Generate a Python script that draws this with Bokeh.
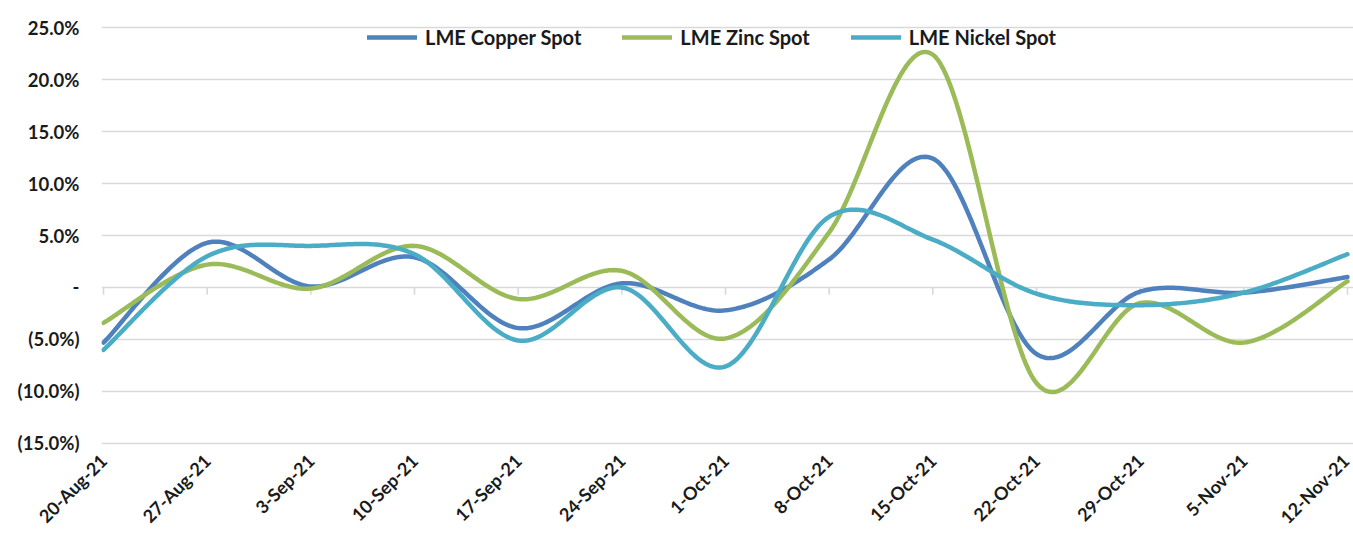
import numpy as np
from bokeh.plotting import figure
from bokeh.models import FixedTicker, Legend, LegendItem
from bokeh.embed import file_html
from bokeh.resources import INLINE

# ---- data ----
dates = ["20-Aug-21", "27-Aug-21", "3-Sep-21", "10-Sep-21", "17-Sep-21", "24-Sep-21",
         "1-Oct-21", "8-Oct-21", "15-Oct-21", "22-Oct-21", "29-Oct-21", "5-Nov-21", "12-Nov-21"]
copper = [-5.3, 4.3, 0.1, 2.9, -3.9, 0.4, -2.2, 2.7, 12.4, -6.4, -0.4, -0.5, 1.0]
zinc = [-3.4, 2.2, -0.1, 4.0, -1.1, 1.6, -4.9, 5.3, 22.4, -9.2, -1.5, -5.3, 0.6]
nickel = [-6.0, 3.0, 4.0, 3.2, -5.1, 0.0, -7.6, 6.8, 4.6, -0.6, -1.7, -0.5, 3.2]
series_names = ["LME Copper Spot", "LME Zinc Spot", "LME Nickel Spot"]
y_ticks = [-15, -10, -5, 0, 5, 10, 15, 20, 25]
y_tick_labels = ["(15.0%)", "(10.0%)", "(5.0%)", "-", "5.0%", "10.0%", "15.0%", "20.0%", "25.0%"]

colors = ["#4F81BD", "#9BBB59", "#4BACC6"]
FONT = "Lato"
TXT = "#1a1a1a"


def smooth(vals, n=40):
    """Excel-like smoothed line: cubic Bezier through the points (Catmull-Rom tangents)."""
    x = np.arange(len(vals), dtype=float)
    y = np.asarray(vals, dtype=float)
    P = np.column_stack([x, y])
    ext = np.vstack([P[0], P, P[-1]])
    out = []
    for i in range(len(P) - 1):
        p0, p1, p2, p3 = ext[i], ext[i + 1], ext[i + 2], ext[i + 3]
        c1 = p1 + (p2 - p0) / 6.0
        c2 = p2 - (p3 - p1) / 6.0
        t = np.linspace(0, 1, n, endpoint=(i == len(P) - 2))[:, None]
        pts = (1 - t) ** 3 * p1 + 3 * (1 - t) ** 2 * t * c1 + 3 * (1 - t) * t ** 2 * c2 + t ** 3 * p2
        out.append(pts)
    pts = np.vstack(out)
    return pts[:, 0], pts[:, 1]


p = figure(width=1353, height=538, x_range=(-0.0193, 12.058), y_range=(-15.2, 25.2),
           output_backend="svg", toolbar_location=None,
           min_border_left=101, min_border_right=0, min_border_top=25, min_border_bottom=93)
p.outline_line_color = None
p.background_fill_color = "white"
p.border_fill_color = "white"

# grid
p.xgrid.visible = False
p.ygrid.ticker = FixedTicker(ticks=y_ticks)
p.ygrid.grid_line_color = "#d9d9d9"
p.ygrid.grid_line_width = 1.6

# y axis
p.yaxis.ticker = FixedTicker(ticks=y_ticks)
p.yaxis.major_label_overrides = dict(zip(y_ticks, y_tick_labels))
p.yaxis.axis_line_color = None
p.yaxis.major_tick_line_color = None
p.yaxis.minor_tick_line_color = None
p.yaxis.major_tick_out = 0
p.yaxis.major_tick_in = 0
p.yaxis.minor_tick_out = 0
p.yaxis.major_label_standoff = 22
p.yaxis.major_label_text_font = FONT
p.yaxis.major_label_text_font_style = "bold"
p.yaxis.major_label_text_font_size = "18.5px"
p.yaxis.major_label_text_color = TXT

# x axis
x_idx = list(range(len(dates)))
p.xaxis.ticker = FixedTicker(ticks=x_idx)
p.xaxis.major_label_overrides = dict(zip(x_idx, dates))
p.xaxis.major_label_orientation = np.pi / 4
p.xaxis.axis_line_color = None
p.xaxis.major_tick_line_color = None
p.xaxis.minor_tick_line_color = None
p.xaxis.major_tick_out = 0
p.xaxis.major_tick_in = 0
p.xaxis.minor_tick_out = 0
p.xaxis.major_label_standoff = 12
p.xaxis.major_label_text_font = FONT
p.xaxis.major_label_text_font_style = "bold"
p.xaxis.major_label_text_font_size = "18px"
p.xaxis.major_label_text_color = TXT

# small tick marks on the zero line
p.segment(x0=x_idx, y0=[0] * len(x_idx), x1=x_idx, y1=[-0.7] * len(x_idx),
          line_color="#d9d9d9", line_width=1.6)

items = []
for name, vals, col in zip(series_names, [copper, zinc, nickel], colors):
    xs, ys = smooth(vals)
    r = p.line(xs, ys, line_color=col, line_width=4.5, line_cap="round", line_join="round")
    items.append(LegendItem(label=name, renderers=[r]))

legend = Legend(items=items, orientation="horizontal", location=(266, 396))
legend.background_fill_alpha = 0
legend.border_line_color = None
legend.padding = 0
legend.margin = 0
legend.spacing = 41
legend.glyph_width = 50
legend.glyph_height = 20
legend.label_standoff = 8
legend.label_text_font = FONT
legend.label_text_font_style = "bold"
legend.label_text_font_size = "20px"
legend.label_text_color = TXT
p.add_layout(legend, "center")

open("out.html", "w").write(file_html(p, INLINE))
